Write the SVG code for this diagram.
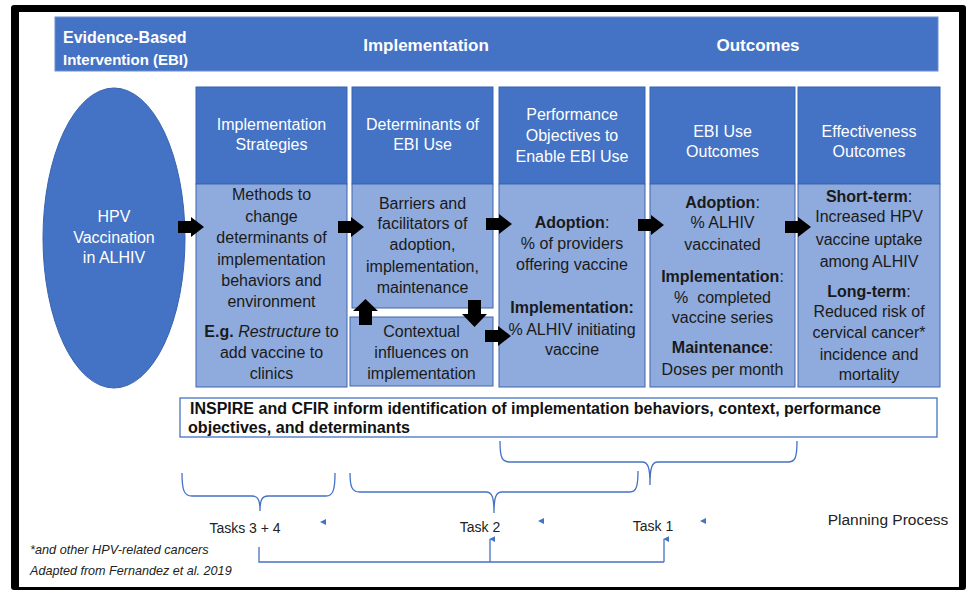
<svg xmlns="http://www.w3.org/2000/svg" width="966" height="590" viewBox="0 0 966 590">
  <style>
    text { font-family: "Liberation Sans", Arial, sans-serif; }
    .hd { fill: #4472C4; stroke: #3763B0; stroke-width: 1; }
    .bd { fill: #8FAADC; stroke: #3F66AE; stroke-width: 1; }
    .wt { fill: #ffffff; font-size: 16px; text-anchor: middle; }
    .bt { fill: #1a1a1a; font-size: 16px; text-anchor: middle; }
    .b { font-weight: bold; }
    .i { font-style: italic; }
    .blk { fill: #000000; }
    .br { fill: none; stroke: #4472C4; stroke-width: 1.3; }
    .tk { fill: #222222; font-size: 14px; text-anchor: middle; }
    .tri { fill: #4472C4; }
  </style>
  <defs>
    <path id="rarrow" d="M0,-6 H13 V-10 L26,0 L13,10 V6 H0 Z"/>
    <marker id="uph" viewBox="0 0 8 8" refX="4" refY="1" markerWidth="6" markerHeight="6" orient="auto-start-reverse" markerUnits="userSpaceOnUse">
      <path d="M0,8 L4,0 L8,8 Z" fill="#4472C4"/>
    </marker>
  </defs>

  <!-- outer frame -->
  <rect x="11" y="5" width="955" height="585" rx="3" fill="#000000"/>
  <rect x="19" y="12" width="940" height="575" fill="#ffffff"/>

  <!-- top band -->
  <g id="band">
    <rect x="55" y="17" width="883" height="54" fill="#4472C4" stroke="#6A8CD0" stroke-width="1"/>
    <text x="63" y="43" fill="#ffffff" font-size="16" font-weight="bold">Evidence-Based</text>
    <text x="63" y="65" fill="#ffffff" font-size="15" font-weight="bold">Intervention (EBI)</text>
    <text x="426" y="51" fill="#ffffff" font-size="17" font-weight="bold" text-anchor="middle">Implementation</text>
    <text x="758" y="51" fill="#ffffff" font-size="17" font-weight="bold" text-anchor="middle">Outcomes</text>
  </g>

  <!-- EBI ellipse -->
  <g id="ebi">
    <ellipse cx="114" cy="238" rx="71" ry="150" fill="#4472C4" stroke="#3763B0" stroke-width="1"/>
    <text class="wt" x="114" y="222" font-size="14">HPV</text>
    <text class="wt" x="114" y="243" font-size="14">Vaccination</text>
    <text class="wt" x="114" y="263" font-size="14">in ALHIV</text>
  </g>

  <!-- column 1 -->
  <g id="strategies">
    <rect class="hd" x="196" y="87" width="151" height="97"/>
    <rect class="bd" x="196" y="184" width="151" height="203"/>
    <text class="wt" x="271.5" y="130">Implementation</text>
    <text class="wt" x="271.5" y="150">Strategies</text>
    <text class="bt" x="271.5" y="200">Methods to</text>
    <text class="bt" x="271.5" y="222">change</text>
    <text class="bt" x="271.5" y="243">determinants of</text>
    <text class="bt" x="271.5" y="265">implementation</text>
    <text class="bt" x="271.5" y="286">behaviors and</text>
    <text class="bt" x="271.5" y="307">environment</text>
    <text class="bt" x="271.5" y="337"><tspan class="b">E.g.</tspan> <tspan class="i">Restructure</tspan> to</text>
    <text class="bt" x="271.5" y="358">add vaccine to</text>
    <text class="bt" x="271.5" y="379">clinics</text>
  </g>

  <!-- column 2 -->
  <g id="determinants">
    <rect class="hd" x="352" y="87" width="141" height="97"/>
    <rect class="bd" x="352" y="184" width="141" height="124"/>
    <text class="wt" x="422.5" y="130">Determinants of</text>
    <text class="wt" x="422.5" y="150">EBI Use</text>
    <text class="bt" x="422.5" y="209">Barriers and</text>
    <text class="bt" x="422.5" y="229">facilitators of</text>
    <text class="bt" x="422.5" y="250">adoption,</text>
    <text class="bt" x="422.5" y="272">implementation,</text>
    <text class="bt" x="422.5" y="293">maintenance</text>
  </g>
  <g id="context">
    <rect class="bd" x="350" y="317" width="143" height="69"/>
    <text class="bt" x="421.5" y="337">Contextual</text>
    <text class="bt" x="421.5" y="358">influences on</text>
    <text class="bt" x="421.5" y="379">implementation</text>
  </g>

  <!-- column 3 -->
  <g id="objectives">
    <rect class="hd" x="499" y="87" width="146" height="97"/>
    <rect class="bd" x="499" y="184" width="146" height="203"/>
    <text class="wt" x="572" y="120">Performance</text>
    <text class="wt" x="572" y="141">Objectives to</text>
    <text class="wt" x="572" y="162">Enable EBI Use</text>
    <text class="bt" x="572" y="228"><tspan class="b">Adoption</tspan>:</text>
    <text class="bt" x="572" y="249">% of providers</text>
    <text class="bt" x="572" y="270">offering vaccine</text>
    <text class="bt" x="572" y="313"><tspan class="b">Implementation:</tspan></text>
    <text class="bt" x="572" y="335">% ALHIV initiating</text>
    <text class="bt" x="572" y="355">vaccine</text>
  </g>

  <!-- column 4 -->
  <g id="use-outcomes">
    <rect class="hd" x="650" y="87" width="145" height="97"/>
    <rect class="bd" x="650" y="184" width="145" height="203"/>
    <text class="wt" x="722.5" y="137">EBI Use</text>
    <text class="wt" x="722.5" y="157">Outcomes</text>
    <text class="bt" x="722.5" y="208"><tspan class="b">Adoption</tspan>:</text>
    <text class="bt" x="722.5" y="228">% ALHIV</text>
    <text class="bt" x="722.5" y="250">vaccinated</text>
    <text class="bt" x="722.5" y="282"><tspan class="b">Implementation</tspan>:</text>
    <text class="bt" x="722.5" y="303" xml:space="preserve">%  completed</text>
    <text class="bt" x="722.5" y="323">vaccine series</text>
    <text class="bt" x="722.5" y="353"><tspan class="b">Maintenance</tspan>:</text>
    <text class="bt" x="722.5" y="375">Doses per month</text>
  </g>

  <!-- column 5 -->
  <g id="effectiveness">
    <rect class="hd" x="798" y="87" width="142" height="97"/>
    <rect class="bd" x="798" y="184" width="142" height="203"/>
    <text class="wt" x="869" y="137">Effectiveness</text>
    <text class="wt" x="869" y="157">Outcomes</text>
    <text class="bt" x="869" y="202"><tspan class="b">Short-term</tspan>:</text>
    <text class="bt" x="869" y="222">Increased HPV</text>
    <text class="bt" x="869" y="245">vaccine uptake</text>
    <text class="bt" x="869" y="267">among ALHIV</text>
    <text class="bt" x="869" y="297"><tspan class="b">Long-term</tspan>:</text>
    <text class="bt" x="869" y="317">Reduced risk of</text>
    <text class="bt" x="869" y="338">cervical cancer*</text>
    <text class="bt" x="869" y="360">incidence and</text>
    <text class="bt" x="869" y="380">mortality</text>
  </g>

  <!-- frameworks note -->
  <g id="frameworks">
    <rect x="180" y="398" width="757" height="39" fill="#ffffff" stroke="#4472C4" stroke-width="1.3"/>
    <text x="190" y="414" font-size="16" font-weight="bold" fill="#111111" textLength="691" lengthAdjust="spacingAndGlyphs">INSPIRE and CFIR inform identification of implementation behaviors, context, performance</text>
    <text x="188" y="433" font-size="16" font-weight="bold" fill="#111111" textLength="222" lengthAdjust="spacingAndGlyphs">objectives, and determinants</text>
  </g>

  <!-- planning tasks -->
  <g id="task34"><text class="tk" x="245" y="533">Tasks 3 + 4</text></g>
  <g id="task2"><text class="tk" x="480" y="532">Task 2</text></g>
  <g id="task1"><text class="tk" x="653" y="531">Task 1</text></g>
  <g id="planning"><text x="888" y="525" font-size="15.5" fill="#222222" text-anchor="middle">Planning Process</text></g>

  <!-- footnotes -->
  <g id="notes">
    <text x="30" y="554" font-size="12.7" font-style="italic" fill="#222222">*and other HPV-related cancers</text>
    <text x="30" y="575" font-size="12.6" font-style="italic" fill="#222222">Adapted from Fernandez et al. 2019</text>
  </g>

  <!-- connectors -->
  <g id="connectors">
    <use href="#rarrow" class="blk" x="178" y="227"/>
    <use href="#rarrow" class="blk" x="338" y="227"/>
    <use href="#rarrow" class="blk" x="486" y="224"/>
    <use href="#rarrow" class="blk" x="638" y="225"/>
    <use href="#rarrow" class="blk" x="785" y="227"/>
    <use href="#rarrow" class="blk" x="485" y="336"/>
    <path class="blk" d="M468,300 H481 V314 H487 L474.5,327 L462,314 H468 Z"/>
    <path class="blk" d="M365.5,299 L378,311 H372 V325 H359 V311 H353 Z"/>

    <!-- braces -->
    <path class="br" d="M500,441 C500,458 502,462 510,462 H642 C648,462 650,467 650,485 C650,467 652,462 658,462 H788 C795,462 797,458 797,441"/>
    <path class="br" d="M182,473 C182,490 184,496 192,496 H252 C258,496 260,500 260,511 C260,500 262,496 268,496 H326 C333,496 335,490 335,473"/>
    <path class="br" d="M350,473 C350,487 352,492 360,492 H486 C492,492 494,497 494,513 C494,497 496,492 502,492 H630 C636,492 638,487 638,471"/>

    <!-- feedback lines -->
    <path class="br" d="M259,547 V562 H664"/>
    <line class="br" x1="490" y1="562" x2="490" y2="539" marker-end="url(#uph)"/>
    <line class="br" x1="664" y1="562" x2="664" y2="539" marker-end="url(#uph)"/>

    <path class="tri" d="M320,522 L326,519 L326,525 Z"/>
    <path class="tri" d="M538,521 L544,518 L544,524 Z"/>
    <path class="tri" d="M700,521 L706,518 L706,524 Z"/>
  </g>
</svg>
